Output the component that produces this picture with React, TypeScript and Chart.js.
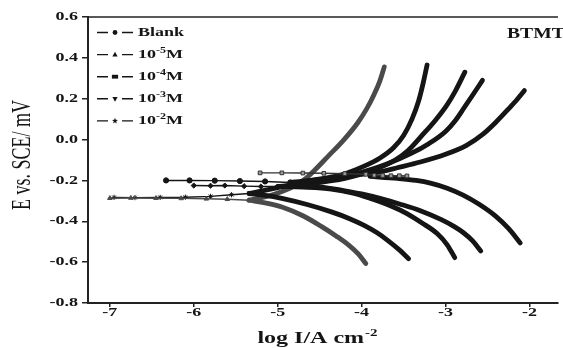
import React, { useEffect, useRef } from 'react';
import { Chart, registerables } from 'chart.js';

Chart.register(...registerables);

// ---- axis ticks ----
const xTicks = [-7, -6, -5, -4, -3, -2];
const yTicks = [-0.8, -0.6, -0.4, -0.2, 0.0, 0.2, 0.4, 0.6];

// ---- legend ----
const legendBase = ['Blank', '10', '10', '10', '10'];
const legendExp = ['', '-5', '-4', '-3', '-2'];
const legendSuffix = ['', 'M', 'M', 'M', 'M'];
const legendMarker = ['circle', 'triangle', 'rect', 'triangleDown', 'star'];

// ---- series: [log I, E] ----
// Blank
const blankSpike = [[-6.33, -0.2], [-6.05, -0.2], [-5.75, -0.201], [-5.45, -0.203], [-5.15, -0.205], [-4.85, -0.21]];
const blankCathodic = [[-4.85, -0.21], [-4.55, -0.228], [-4.24, -0.248], [-4.0, -0.266], [-3.77, -0.289], [-3.55, -0.315], [-3.3, -0.348], [-3.05, -0.392], [-2.9, -0.425], [-2.79, -0.455], [-2.68, -0.495], [-2.58, -0.545]];
const blankAnodic = [[-4.85, -0.21], [-4.4, -0.19], [-4.0, -0.16], [-3.7, -0.12], [-3.41, -0.068], [-3.2, -0.02], [-3.0, 0.04], [-2.88, 0.095], [-2.78, 0.155], [-2.67, 0.222], [-2.56, 0.29]];
// 10^-5 M
const m5Spike = [[-7.0, -0.287], [-6.75, -0.286], [-6.45, -0.287], [-6.15, -0.288], [-5.85, -0.29], [-5.6, -0.292], [-5.34, -0.297]];
const m5Cathodic = [[-5.34, -0.297], [-5.15, -0.31], [-4.95, -0.33], [-4.7, -0.373], [-4.48, -0.425], [-4.3, -0.473], [-4.15, -0.518], [-4.04, -0.56], [-3.95, -0.607]];
const m5Anodic = [[-5.34, -0.297], [-5.1, -0.275], [-4.85, -0.238], [-4.68, -0.195], [-4.56, -0.15], [-4.4, -0.082], [-4.22, -0.005], [-4.05, 0.08], [-3.94, 0.15], [-3.85, 0.222], [-3.78, 0.29], [-3.73, 0.356]];
// 10^-4 M
const m4Spike = [[-5.21, -0.163], [-4.95, -0.163], [-4.7, -0.164], [-4.45, -0.165], [-4.2, -0.167], [-3.95, -0.17], [-3.85, -0.175], [-3.75, -0.176], [-3.65, -0.177], [-3.55, -0.177], [-3.46, -0.178]];
const m4Cathodic = [[-3.9, -0.18], [-3.575, -0.19], [-3.35, -0.2], [-3.18, -0.213], [-2.98, -0.238], [-2.79, -0.272], [-2.6, -0.317], [-2.4, -0.376], [-2.25, -0.435], [-2.11, -0.506]];
const m4Anodic = [[-4.0, -0.17], [-3.75, -0.155], [-3.575, -0.138], [-3.3, -0.11], [-3.0, -0.072], [-2.75, -0.028], [-2.55, 0.028], [-2.4, 0.085], [-2.25, 0.15], [-2.14, 0.2], [-2.06, 0.24]];
// 10^-3 M
const m3Spike = [[-6.0, -0.225], [-5.8, -0.226], [-5.63, -0.225], [-5.4, -0.228], [-5.2, -0.23], [-5.0, -0.23]];
const m3Cathodic = [[-5.0, -0.23], [-4.7, -0.233], [-4.36, -0.242], [-4.1, -0.262], [-3.89, -0.289], [-3.65, -0.325], [-3.46, -0.362], [-3.28, -0.408], [-3.1, -0.46], [-2.98, -0.515], [-2.89, -0.578]];
const m3Anodic = [[-5.0, -0.23], [-4.6, -0.215], [-4.2, -0.19], [-3.85, -0.148], [-3.6, -0.1], [-3.45, -0.055], [-3.27, 0.025], [-3.12, 0.095], [-2.99, 0.165], [-2.88, 0.24], [-2.77, 0.33]];
// 10^-2 M
const m2Spike = [[-6.95, -0.283], [-6.7, -0.284], [-6.4, -0.283], [-6.1, -0.282], [-5.8, -0.278], [-5.55, -0.27], [-5.34, -0.264]];
const m2Cathodic = [[-5.34, -0.264], [-5.15, -0.273], [-4.95, -0.288], [-4.65, -0.318], [-4.36, -0.354], [-4.15, -0.386], [-3.97, -0.42], [-3.82, -0.455], [-3.69, -0.493], [-3.55, -0.54], [-3.44, -0.583]];
const m2Anodic = [[-5.34, -0.264], [-5.0, -0.235], [-4.6, -0.2], [-4.24, -0.172], [-3.97, -0.13], [-3.78, -0.09], [-3.62, -0.04], [-3.5, 0.02], [-3.4, 0.1], [-3.32, 0.19], [-3.27, 0.27], [-3.22, 0.365]];

const FONT = "'Liberation Serif', 'Times New Roman', serif";
const INK = '#151515';
const GRAY = '#4a4a4a';
const SX = 1.5;

const toXY = (pts: number[][]) => pts.map(([x, y]) => ({ x, y }));

function branch(pts: number[][], color: string) {
  return {
    data: toXY(pts),
    showLine: true,
    borderColor: color,
    backgroundColor: color,
    borderWidth: 4.8,
    borderCapStyle: 'round',
    borderJoinStyle: 'round',
    pointRadius: 0,
    cubicInterpolationMode: 'monotone',
  };
}

function spike(pts: number[][], color: string, style: any, fill?: string) {
  return {
    data: toXY(pts),
    showLine: true,
    borderColor: color,
    backgroundColor: color,
    borderWidth: 1.4,
    pointRadius: 2.6,
    pointStyle: style,
    pointBackgroundColor: fill || color,
    pointBorderColor: color,
    pointBorderWidth: 1,
    tension: 0,
  };
}

function sText(ctx: CanvasRenderingContext2D, text: string, x: number, y: number, align: CanvasTextAlign, sx = SX) {
  ctx.save();
  ctx.translate(x, y);
  ctx.scale(sx, 1);
  ctx.textAlign = align;
  ctx.fillText(text, 0, 0);
  ctx.restore();
}

function drawMarker(ctx: CanvasRenderingContext2D, style: string, x: number, y: number, r: number) {
  ctx.beginPath();
  if (style === 'circle') {
    ctx.arc(x, y, r, 0, Math.PI * 2);
  } else if (style === 'rect') {
    ctx.rect(x - r * 1.3, y - r * 0.8, r * 2.6, r * 1.6);
  } else if (style === 'triangle') {
    ctx.moveTo(x, y - r * 1.2);
    ctx.lineTo(x + r * 1.1, y + r * 0.8);
    ctx.lineTo(x - r * 1.1, y + r * 0.8);
    ctx.closePath();
  } else if (style === 'triangleDown') {
    ctx.moveTo(x, y + r * 1.2);
    ctx.lineTo(x + r * 1.1, y - r * 0.8);
    ctx.lineTo(x - r * 1.1, y - r * 0.8);
    ctx.closePath();
  } else {
    for (let i = 0; i < 10; i++) {
      const a = -Math.PI / 2 + (i * Math.PI) / 5;
      const rr = i % 2 === 0 ? r * 1.3 : r * 0.55;
      const px = x + Math.cos(a) * rr;
      const py = y + Math.sin(a) * rr;
      if (i === 0) ctx.moveTo(px, py);
      else ctx.lineTo(px, py);
    }
    ctx.closePath();
  }
  ctx.fill();
}

const decorPlugin = {
  id: 'decor',
  afterDraw(chart: any) {
    const ctx: CanvasRenderingContext2D = chart.ctx;
    const { left, right, top } = chart.chartArea;
    ctx.save();
    // top frame line
    ctx.strokeStyle = '#222';
    ctx.lineWidth = 1.5;
    ctx.beginPath();
    ctx.moveTo(left, top);
    ctx.lineTo(right, top);
    ctx.stroke();

    ctx.fillStyle = INK;
    ctx.textBaseline = 'middle';
    ctx.font = `bold 12px ${FONT}`;
    const ys = chart.scales.y;
    yTicks.forEach((v) => {
      sText(ctx, v.toFixed(1), 78, ys.getPixelForValue(v), 'right');
    });
    const xs = chart.scales.x;
    xTicks.forEach((v) => {
      sText(ctx, String(v), xs.getPixelForValue(v), 313, 'center');
    });

    // legend
    for (let i = 0; i < legendBase.length; i++) {
      const ly = 32.5 + i * 22.1;
      ctx.strokeStyle = INK;
      ctx.lineWidth = 1.4;
      ctx.beginPath();
      ctx.moveTo(97, ly);
      ctx.lineTo(108, ly);
      ctx.moveTo(122, ly);
      ctx.lineTo(133, ly);
      ctx.stroke();
      ctx.fillStyle = INK;
      drawMarker(ctx, legendMarker[i], 115, ly, 2.4);
      let tx = 138;
      ctx.font = `bold 12px ${FONT}`;
      ctx.textBaseline = 'middle';
      sText(ctx, legendBase[i], tx, ly + 0.5, 'left');
      tx += ctx.measureText(legendBase[i]).width * SX;
      if (legendExp[i]) {
        ctx.font = `bold 8px ${FONT}`;
        sText(ctx, legendExp[i], tx, ly - 4, 'left');
        tx += ctx.measureText(legendExp[i]).width * SX;
        ctx.font = `bold 12px ${FONT}`;
        sText(ctx, legendSuffix[i], tx, ly + 0.5, 'left');
      }
    }

    // annotation
    ctx.font = `bold 14px ${FONT}`;
    ctx.textBaseline = 'middle';
    sText(ctx, 'BTMT', 507, 34, 'left', 1.4);

    // x title
    ctx.textBaseline = 'alphabetic';
    ctx.font = `bold 16px ${FONT}`;
    const main = 'log I/A cm';
    const wMain = ctx.measureText(main).width * SX;
    ctx.font = `bold 10px ${FONT}`;
    const wSup = ctx.measureText('-2').width * SX;
    const startX = 317 - (wMain + wSup) / 2;
    ctx.font = `bold 16px ${FONT}`;
    sText(ctx, main, startX, 343, 'left');
    ctx.font = `bold 10px ${FONT}`;
    sText(ctx, '-2', startX + wMain + 1, 336, 'left');

    // y title
    ctx.save();
    ctx.translate(23, 155);
    ctx.rotate(-Math.PI / 2);
    ctx.scale(1, 1.5);
    ctx.font = `18px ${FONT}`;
    ctx.textAlign = 'center';
    ctx.textBaseline = 'middle';
    ctx.fillText('E vs. SCE/ mV', 0, 0);
    ctx.restore();

    ctx.restore();
  },
};

export default function App() {
  const ref = useRef<HTMLCanvasElement | null>(null);
  useEffect(() => {
    if (!ref.current) return;
    const chart = new Chart(ref.current, {
      type: 'scatter',
      data: {
        datasets: [
          spike(blankSpike, INK, 'circle'),
          spike(m5Spike, GRAY, 'triangle'),
          spike(m4Spike, '#333', 'rect', '#9a9a9a'),
          spike(m3Spike, INK, 'rectRot'),
          spike(m2Spike, INK, 'star'),
          branch(blankCathodic, INK),
          branch(blankAnodic, INK),
          branch(m4Cathodic, INK),
          branch(m4Anodic, INK),
          branch(m3Cathodic, INK),
          branch(m3Anodic, INK),
          branch(m2Cathodic, INK),
          branch(m2Anodic, INK),
          branch(m5Cathodic, GRAY),
          branch(m5Anodic, GRAY),
        ] as any,
      },
      options: {
        animation: false,
        responsive: false,
        events: [],
        layout: { padding: { top: 17, left: 0, right: 0, bottom: 0 } },
        plugins: { legend: { display: false }, tooltip: { enabled: false }, title: { display: false } },
        scales: {
          x: {
            type: 'linear',
            min: -7.26,
            max: -1.66,
            afterBuildTicks: (s: any) => { s.ticks = xTicks.map((v) => ({ value: v })); },
            afterFit: (s: any) => { s.height = 45; },
            ticks: { display: false },
            grid: { drawOnChartArea: false, drawTicks: true, tickLength: 4, color: '#222', lineWidth: 1.5 },
            border: { display: true, color: '#222', width: 2 },
          },
          y: {
            type: 'linear',
            min: -0.8,
            max: 0.6,
            afterBuildTicks: (s: any) => { s.ticks = yTicks.map((v) => ({ value: v })); },
            afterFit: (s: any) => { s.width = 88; },
            ticks: { display: false },
            grid: { drawOnChartArea: false, drawTicks: true, tickLength: 6, color: '#222', lineWidth: 1.5 },
            border: { display: true, color: '#222', width: 2 },
          },
        },
      } as any,
      plugins: [decorPlugin],
    });
    return () => chart.destroy();
  }, []);
  return (
    <div style={{ position: 'fixed', left: 0, top: 0, width: 563, height: 348, background: '#fff' }}>
      <canvas ref={ref} width={563} height={348} />
    </div>
  );
}
